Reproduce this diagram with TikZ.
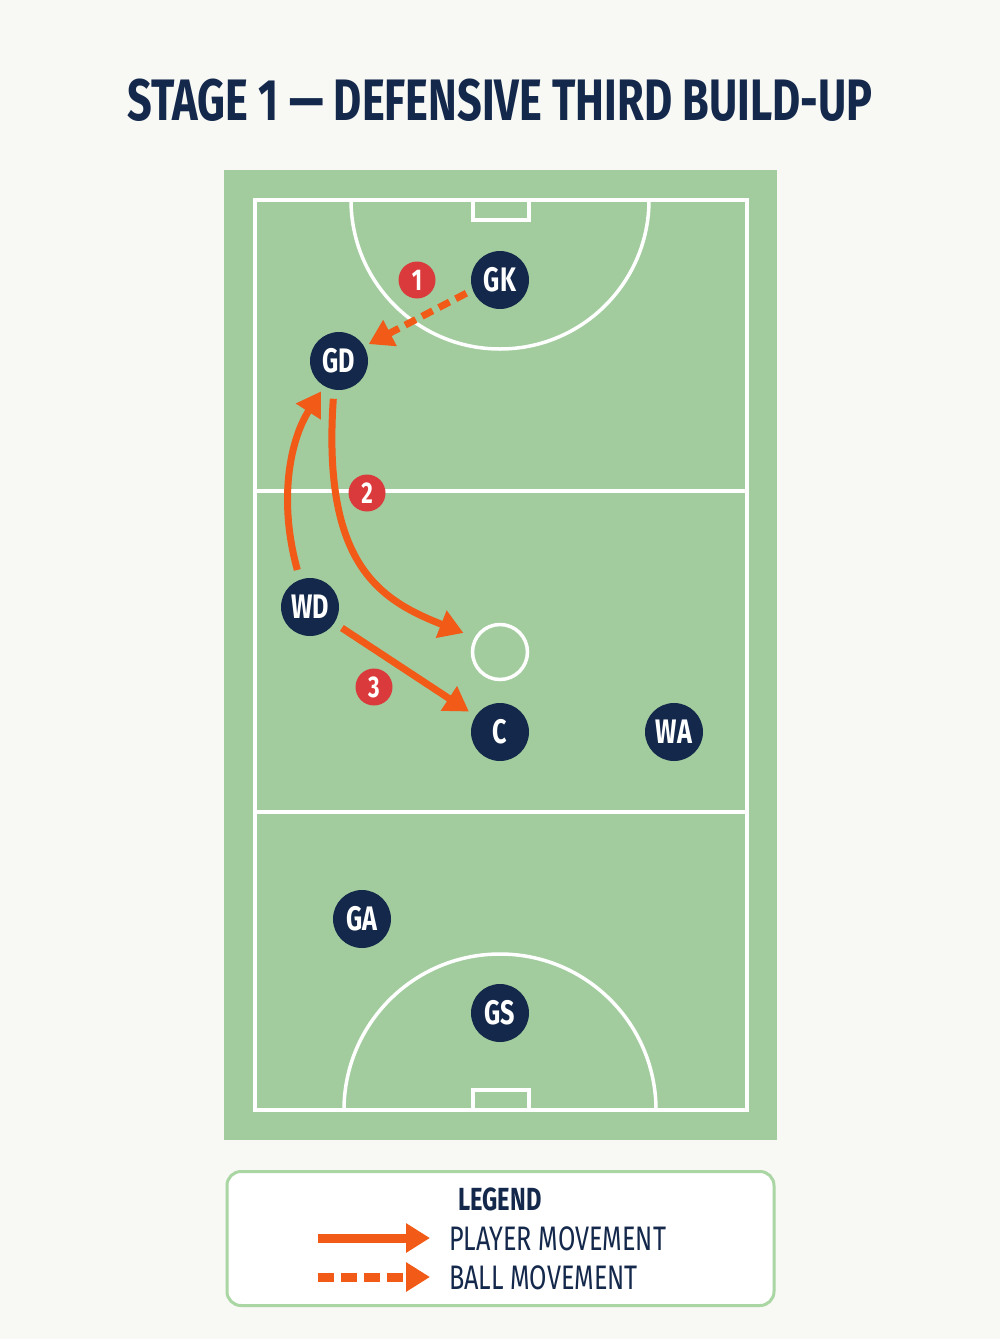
\documentclass[tikz,border=0pt]{standalone}
\usepackage{fontspec}
\setmainfont{Fira Sans}
\newfontfamily\condfont[FakeStretch=0.74]{Fira Sans}
\usetikzlibrary{arrows.meta}
\definecolor{navy}{HTML}{13284B}
\definecolor{pitch}{HTML}{A2CC9E}
\definecolor{runorange}{HTML}{F15A17}
\definecolor{badgered}{HTML}{DB3A3C}
\definecolor{paper}{HTML}{F8F8F4}
\definecolor{legendline}{HTML}{A9D6A2}

\begin{document}
\begin{tikzpicture}[x=1pt,y=-1pt,
  player/.style={circle,fill=navy,minimum size=58pt,inner sep=0pt,text=white,
    font=\condfont\bfseries\fontsize{34}{34}\selectfont},
  badge/.style={circle,fill=badgered,minimum size=37pt,inner sep=0pt,text=white,
    font=\condfont\bfseries\fontsize{30}{30}\selectfont},
  court/.style={draw=white,line width=3.5pt},
  run/.style={draw=runorange,line width=7pt,-{Triangle[width=28pt,length=24pt]}},
  pass/.style={run,dash pattern=on 12pt off 7pt}]
\fill[paper] (0,0) rectangle (1000,1339);
\node[anchor=base,text=navy,font=\condfont\bfseries\fontsize{58.5}{58.5}\selectfont] (title) at (500,120) {STAGE 1 — DEFENSIVE THIRD BUILD-UP};
% court
\fill[pitch] (224,170) rectangle (777,1140);
\draw[court] (255,200) rectangle (747,1110);
\draw[court] (255,491) -- (747,491) (255,812) -- (747,812);
\draw[court] (473,200) rectangle (529,220) (473,1090) rectangle (529,1110);
\begin{scope}
\clip (255,200) rectangle (747,1110);
\draw[court] (500,200) circle[radius=149pt];
\draw[court] (500,1110) circle[radius=156pt];
\end{scope}
\node[circle,draw=white,line width=3.5pt,minimum size=55pt,inner sep=0pt] (centre) at (500,652) {};
% players and steps
\foreach \x/\y/\name in {500/280/GK, 339/361/GD, 310/607/WD, 500/732/C, 674/732/WA, 362/919/GA, 500/1013/GS}
  {\node[player] (\name) at (\x,\y) {\name};}
\foreach \x/\y/\n in {417/280/1, 367/493/2, 374/687/3}
  {\node[badge] (num\n) at (\x,\y) {\n};}
\draw[pass, shorten <=7pt, shorten >=5pt] (GK.200) -- (GD.30);
\draw[run, shorten <=10pt, shorten >=6pt] (WD.110) .. controls (278,500) and (290,440) .. (GD.240);
\draw[run, shorten <=9pt, shorten >=12pt] (GD.260) .. controls (322,565) and (380,600) .. (centre.150);
\draw[run, shorten <=9pt, shorten >=8pt] (WD) -- (C);
% legend
\node[draw=legendline,line width=3pt,fill=white,rounded corners=14pt,minimum width=547pt,minimum height=134pt] (legend) at (500.5,1238.5) {};
\node[anchor=base,text=navy,font=\condfont\bfseries\fontsize{32}{32}\selectfont] (legendtitle) at (500,1210) {LEGEND};
\coordinate (playerA) at (318,1238);
\coordinate (playerB) at (430,1238);
\coordinate (ballA) at (318,1277);
\coordinate (ballB) at (430,1277);
\draw[run,line width=9pt] (playerA) -- (playerB);
\draw[pass,line width=9pt,dash pattern=on 16pt off 7pt] (ballA) -- (ballB);
\node[anchor=base west,inner sep=0pt,text=navy,font=\condfont\fontsize{34}{34}\selectfont] (playerlabel) at (449,1250) {PLAYER MOVEMENT};
\node[anchor=base west,inner sep=0pt,text=navy,font=\condfont\fontsize{34}{34}\selectfont] (balllabel) at (449,1289) {BALL MOVEMENT};
\end{tikzpicture}
\end{document}
